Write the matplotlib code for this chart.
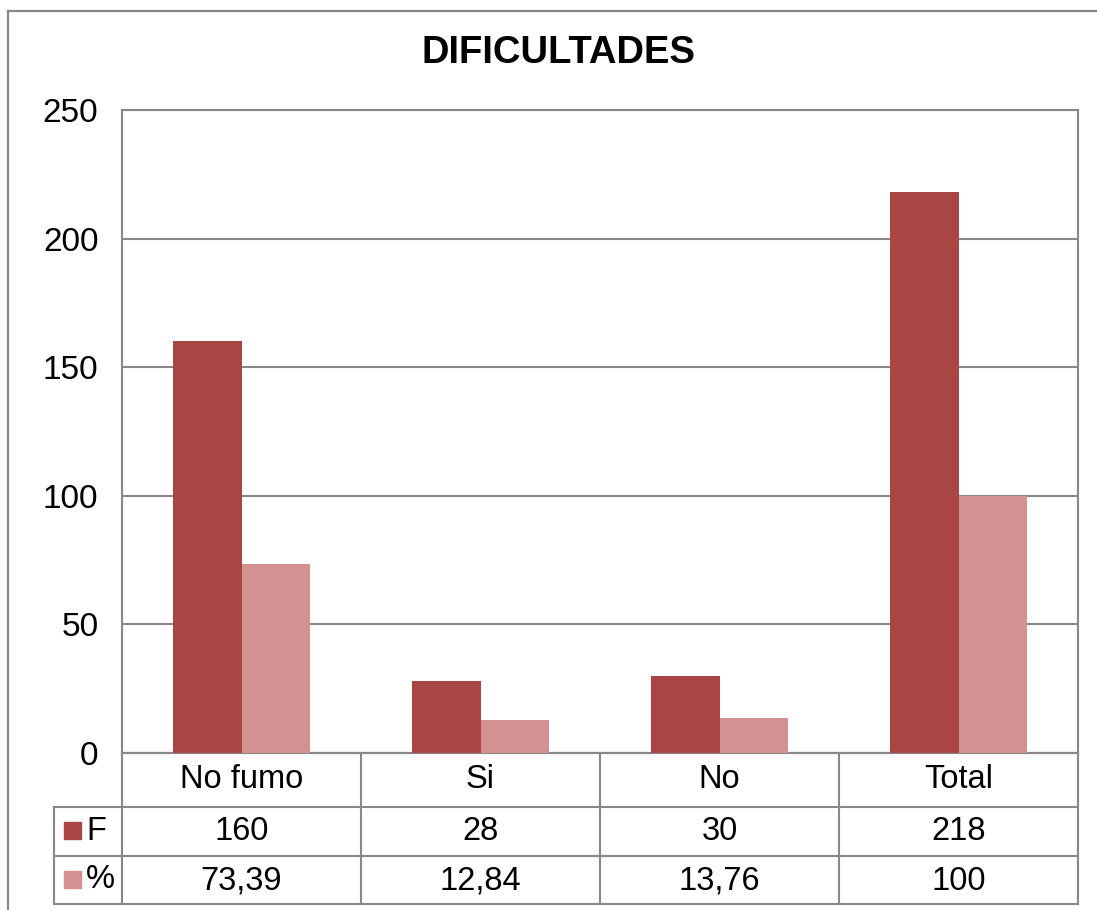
import matplotlib
matplotlib.use('Agg')
import matplotlib.pyplot as plt
import matplotlib.transforms as mtransforms
from matplotlib.lines import Line2D
from matplotlib.patches import Rectangle
import numpy as np

plt.rcParams['font.family'] = ['Liberation Sans', 'DejaVu Sans']

# data
categories = ['No fumo', 'Si', 'No', 'Total']
freq = [160, 28, 30, 218]
pct = [73.39, 12.84, 13.76, 100]
pct_labels = ['73,39', '12,84', '13,76', '100']
series = ['F', '%']

c_f = '#A94543'
c_pct = '#D39191'
c_grid = '#888888'

W, H = 1097, 910
fig = plt.figure(figsize=(W / 100, H / 100), dpi=100)

def fy(py):
    # pixel row -> figure fraction
    return 1 - py / H

ax_left, ax_right, ax_top, ax_bot = 122, 1078, 110, 753
ax = fig.add_axes([ax_left / W, fy(ax_bot), (ax_right - ax_left) / W, (ax_bot - ax_top) / H])

x = np.arange(len(categories))
w = 0.285
ax.bar(x - w / 2, freq, width=w, color=c_f, zorder=3)
ax.bar(x + w / 2, pct, width=w, color=c_pct, zorder=3)

ax.set_xlim(-0.5, len(categories) - 0.5)
ax.set_ylim(0, 250)
ax.set_yticks(range(0, 251, 50))
ax.set_xticks([])
ax.tick_params(axis='y', length=0, pad=17, labelsize=24)
ax.grid(axis='y', color=c_grid, linewidth=1.5, zorder=1)
for s in ax.spines.values():
    s.set_color(c_grid)
    s.set_linewidth(1.5)

fig.text(558 / W, fy(53), 'DIFICULTADES', ha='center', va='center',
         fontsize=27.5, fontweight='bold')

# outer frame of the chart
fig.add_artist(Line2D([8 / W, 8 / W], [fy(11), 0], transform=fig.transFigure,
                      color=c_grid, linewidth=1.6))
fig.add_artist(Line2D([8 / W, 1], [fy(11), fy(11)], transform=fig.transFigure,
                      color=c_grid, linewidth=1.6))

# data table under the axes
tr = mtransforms.blended_transform_factory(ax.transData, fig.transFigure)
n = len(categories)
key_left = -0.5 - (ax_left - 54) / (ax_right - ax_left) * n
row_y = [753, 807, 856, 904]

def tline(xs, ys):
    ax.add_line(Line2D(xs, ys, transform=tr, color=c_grid, linewidth=1.5, clip_on=False))

for b in np.arange(n + 1) - 0.5:
    tline([b, b], [fy(753), fy(904)])
tline([key_left, key_left], [fy(807), fy(904)])
tline([-0.5, n - 0.5], [fy(753), fy(753)])
for ry in row_y[1:]:
    tline([key_left, n - 0.5], [fy(ry), fy(ry)])

fs = 23.5
for i, cat in enumerate(categories):
    ax.text(i, fy(780), cat, transform=tr, ha='center', va='center', fontsize=fs)
    ax.text(i, fy(832), str(freq[i]), transform=tr, ha='center', va='center', fontsize=fs)
    ax.text(i, fy(881), pct_labels[i], transform=tr, ha='center', va='center', fontsize=fs)

# legend keys in the first column
for name, col, ry in zip(series, [c_f, c_pct], [830, 879]):
    fig.add_artist(Rectangle((64 / W, fy(ry + 8.5)), 17 / W, 17 / H,
                             transform=fig.transFigure, color=col))
    fig.text(86 / W, fy(ry + 1), name, ha='left', va='center', fontsize=fs)

fig.savefig('out.png', dpi=100)
